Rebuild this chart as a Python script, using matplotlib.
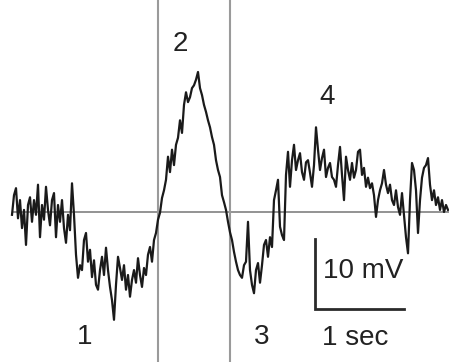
import numpy as np
import matplotlib.pyplot as plt

plt.rcParams['font.family'] = ['Liberation Sans', 'DejaVu Sans']

# membrane potential trace, mV relative to rest, sampled every dt seconds
dt = 2 / 89
vm = [
    -0.4, 2.4, 3.4, -0.9, 1.7, -2.3, 0.3, -4.7, 1.0, 2.1,
    -1.4, 1.7, -0.4, 3.9, -3.6, 1.0, -1.1, 3.6, 0.3, -1.9,
    1.7, 2.7, -3.6, 1.0, -1.4, 1.7, -2.3, -4.4, -0.4, -2.6,
    4.1, -0.4, -6.1, -9.4, -7.6, -8.3, -4.0, -3.0, -7.1, -5.4,
    -9.3, -6.9, -10.4, -11.1, -8.3, -6.4, -9.0, -5.1, -8.3, -10.7,
    -12.6, -15.4, -10.4, -6.4, -8.0, -9.7, -7.6, -11.1, -9.0, -12.1,
    -9.7, -8.3, -10.1, -6.6, -9.0, -10.7, -8.0, -9.0, -6.1, -5.0,
    -7.1, -4.0, -3.0, -1.1, -0.1, 2.0, 3.1, 4.6, 7.9, 5.7,
    8.9, 6.7, 9.6, 10.6, 13.1, 11.3, 15.3, 17.1, 15.7, 16.4,
    17.7, 18.1, 18.9, 20.0, 17.7, 16.7, 15.3, 14.3, 13.1, 12.1,
    10.7, 9.6, 7.4, 6.0, 5.0, 2.4, 1.4, 0.3, -1.4, -2.9,
    -4.0, -5.7, -7.1, -8.3, -9.0, -9.4, -7.6, -7.1, -1.4, -8.3,
    -10.4, -11.6, -8.3, -7.3, -10.1, -7.6, -4.7, -4.0, -6.4, -3.6,
    -5.0, 1.7, 3.1, 4.6, -2.1, -3.3, -4.0, 5.3, 8.6, 3.6,
    7.4, 9.6, 6.0, 7.4, 8.4, 5.7, 4.6, 7.1, 7.4, 5.6,
    3.6, 6.7, 12.1, 8.9, 6.0, 7.7, 8.9, 5.0, 6.3, 7.0,
    5.0, 4.6, 3.6, 6.7, 9.3, 5.3, 1.7, 7.9, 6.0, 4.6,
    7.0, 4.9, 6.0, 8.6, 8.9, 5.3, 6.3, 3.6, 4.9, 3.4,
    4.1, 2.4, -0.7, 1.7, 3.1, 4.1, 6.0, 3.9, 2.7, 3.9,
    1.7, 1.0, 3.1, 0.7, -0.4, 2.7, -0.4, -3.6, -5.9, 1.7,
    7.0, 6.0, 3.1, -3.0, 1.7, 4.9, 6.3, 6.7, 7.7, 3.9,
    1.7, 3.1, 1.0, 2.1, 0.3, 1.7, 0.0, 1.0, 0.3,
]
t = np.arange(len(vm)) * dt

# phase boundaries (s) and phase labels
boundaries = [1.64, 2.45]
phase_labels = ['1', '2', '3', '4']
phase_pos = [(0.82, -17.9), (1.89, 24.0), (2.81, -17.9), (3.54, 16.4)]

# scale bar
bar_t, bar_v = 3.40, -13.9
bar_sec, bar_mv = 1.0, 10.0

fig = plt.figure(figsize=(4.49, 3.62), dpi=100)
ax = fig.add_axes([0, 0, 1, 1])
ax.set_xlim(-12 / 89, 437 / 89)
ax.set_ylim(-150 / 7, 212 / 7)
ax.axis('off')

ax.hlines(0, t[0], 437 / 89, color='#8a8a8a', lw=1.3, zorder=1)
for b in boundaries:
    ax.axvline(b, color='#9a9a9a', lw=1.5, zorder=1)

ax.plot(t, vm, color='#1a1a1a', lw=1.6, zorder=3)

for lab, (x, y) in zip(phase_labels, phase_pos):
    ax.text(x, y, lab, fontsize=20, color='#222222', ha='center', va='center')

ax.plot([bar_t, bar_t, bar_t + bar_sec], [bar_v + bar_mv, bar_v, bar_v],
        color='#2a2a2a', lw=2, solid_joinstyle='miter')
ax.text(bar_t + 0.09, bar_v + 5.4, '10 mV', fontsize=20, color='#222222',
        ha='left', va='center')
ax.text(bar_t + 0.08, bar_v - 4.1, '1 sec', fontsize=20, color='#222222',
        ha='left', va='center')

fig.savefig('out.png', dpi=100)
